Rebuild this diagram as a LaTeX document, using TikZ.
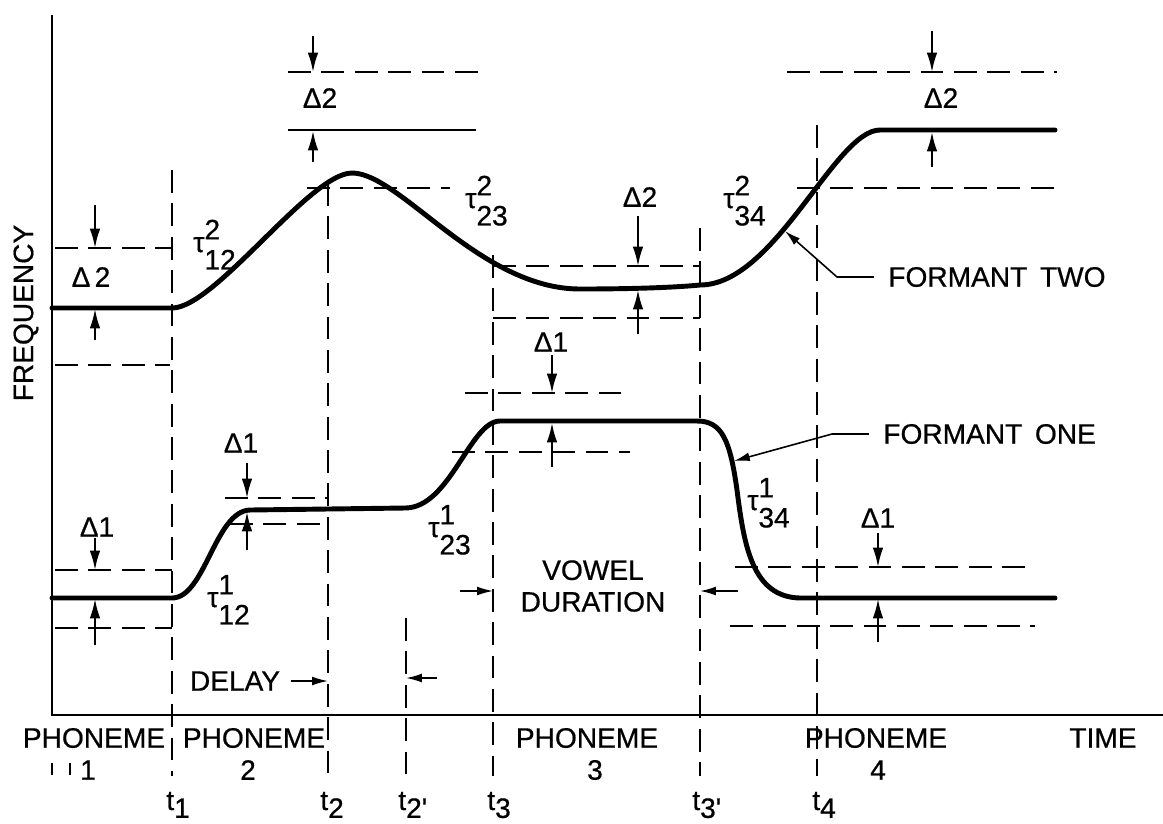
\documentclass[tikz,border=0pt]{standalone}
\usepackage{fontspec}
\setmainfont{Liberation Sans}[RawFeature={embolden=0.6}]
\usetikzlibrary{arrows.meta}

% tau with stacked indices at text size
\newcommand{\tauidx}[2]{τ\rlap{\raisebox{0.45em}{#1}}\raisebox{-0.62em}{#2}}
% time mark t_i
\newcommand{\tmark}[1]{t\raisebox{-0.28em}{#1}}

\tikzset{
  frameaxis/.style={line width=1.4pt},
  formant/.style={line width=2.8pt,line cap=round},
  guide/.style={line width=1.1pt,dash pattern=on 13pt off 6pt},
  solidrule/.style={line width=1.1pt},
  deltaarr/.style={line width=1.1pt,-{Latex[length=11pt,width=6pt]}},
  leader/.style={line width=0.9pt,-{Latex[length=9pt,width=5pt]}},
  lbl/.style={inner sep=0pt}
}

\begin{document}
\begin{tikzpicture}[x=0.02cm,y=-0.02cm,font=\fontsize{16}{18}\selectfont]
\useasboundingbox (0,0) rectangle (1163,823);

% axes
\coordinate (o) at (52,715);
\draw[frameaxis] (52,15) -- (o) -- (1163,715);
\node[lbl,rotate=90] (freq) at (26,313) {FREQUENCY};
\draw[solidrule] (52,763) -- (52,775);
\draw[solidrule] (70,763) -- (70,775);

% time lines
\foreach \x/\ytop in {172/170, 328/183, 406/618, 493/255, 700/228, 817/125}
  \draw[guide] (\x,\ytop) -- (\x,776);

% delta bands, formant two
\draw[guide] (55,248) -- (172,248);
\draw[guide] (55,365) -- (170,365);
\draw[guide] (288,72) -- (480,72);
\draw[solidrule] (288,130) -- (476,130);
\draw[guide] (307,188) -- (450,188);
\draw[guide] (493,266) -- (700,266);
\draw[guide] (493,318) -- (700,318);
\draw[guide] (787,72) -- (1057,72);
\draw[guide] (797,188) -- (1057,188);
% delta bands, formant one
\draw[guide] (55,570) -- (172,570);
\draw[guide] (55,628) -- (172,628);
\draw[guide] (225,498) -- (328,498);
\draw[guide] (230,524) -- (328,524);
\draw[guide] (465,393) -- (622,393);
\draw[guide] (452,452) -- (630,452);
\draw[guide] (735,567) -- (1027,567);
\draw[guide] (730,626) -- (1035,626);

% delta arrows
\foreach \x/\a/\b in {95/205/248, 95/340/309, 313/36/72, 313/162/131,
    638/216/266, 638/334/290, 932/31/72, 932/167/132,
    95/538/570, 95/645/599, 247/463/498, 247/550/512,
    552/355/393, 552/467/423, 878/533/567, 878/642/599}
  \draw[deltaarr] (\x,\a) -- (\x,\b);

% formant two
\draw[formant] (52,308) -- (172,308) .. controls (215,308) and (310,173) .. (352,173)
  .. controls (400,173) and (480,289) .. (580,289)
  .. controls (640,289) and (680,287) .. (700,285)
  .. controls (775,285) and (835,130) .. (880,130) -- (1055,130);
% formant one
\draw[formant] (52,598) -- (172,598) .. controls (205,598) and (215,511) .. (250,510)
  -- (405,508) .. controls (450,508) and (470,421) .. (500,421)
  -- (697,421) .. controls (722,421) and (730,440) .. (737,490)
  .. controls (744,545) and (752,597) .. (800,598) -- (1055,598);

% delta labels
\node[lbl] (d2a) at (91,277) {Δ\hspace{0.15em}2};
\node[lbl] (d2b) at (320,98) {Δ2};
\node[lbl] (d2c) at (640,197) {Δ2};
\node[lbl] (d2d) at (941,98) {Δ2};
\node[lbl] (d1a) at (97,527) {Δ1};
\node[lbl] (d1b) at (241,443) {Δ1};
\node[lbl] (d1c) at (551,342) {Δ1};
\node[lbl] (d1d) at (878,518) {Δ1};

% transition times
\node[lbl,anchor=base west] (tau12b) at (193,252) {\tauidx{2}{12}};
\node[lbl,anchor=base west] (tau23b) at (465,208) {\tauidx{2}{23}};
\node[lbl,anchor=base west] (tau34b) at (723,208) {\tauidx{2}{34}};
\node[lbl,anchor=base west] (tau12a) at (207,607) {\tauidx{1}{12}};
\node[lbl,anchor=base west] (tau23a) at (428,537) {\tauidx{1}{23}};
\node[lbl,anchor=base west] (tau34a) at (747,510) {\tauidx{1}{34}};

% formant names
\node[lbl,anchor=west] (ftwo) at (888,277) {FORMANT\hspace{0.45em}TWO};
\coordinate (ftwoelbow) at (837,277);
\coordinate (ftwotip) at (785,231);
\draw[leader] ([xshift=-8pt]ftwo.west) -- (ftwoelbow) -- (ftwotip);
\node[lbl,anchor=west] (fone) at (883,434) {FORMANT\hspace{0.45em}ONE};
\coordinate (foneelbow) at (832,434);
\coordinate (fonetip) at (734,461);
\draw[leader] ([xshift=-8pt]fone.west) -- (foneelbow) -- (fonetip);

% delay and vowel duration
\node[lbl] (delay) at (235,681) {DELAY};
\coordinate (delayend) at (328,681);
\draw[leader] ([xshift=6pt]delay.east) -- (delayend);
\coordinate (t2ptail) at (437,678);
\coordinate (t2pend) at (406,678);
\draw[leader] (t2ptail) -- (t2pend);
\node[lbl,align=center] (vowel) at (593,586) {VOWEL\\DURATION};
\coordinate (vowell) at (460,591);
\coordinate (vowella) at (493,591);
\coordinate (vowelr) at (738,591);
\coordinate (vowelra) at (700,591);
\draw[leader] (vowell) -- (vowella);
\draw[leader] (vowelr) -- (vowelra);

% phonemes
\node[lbl] (ph1) at (94,738) {PHONEME};
\node[lbl] (ph1n) at (88,770) {1};
\node[lbl] (ph2) at (254,738) {PHONEME};
\node[lbl] (ph2n) at (248,770) {2};
\node[lbl] (ph3) at (587,738) {PHONEME};
\node[lbl] (ph3n) at (595,770) {3};
\node[lbl] (ph4) at (876,738) {PHONEME};
\node[lbl] (ph4n) at (878,770) {4};
\node[lbl] (time) at (1103,738) {TIME};

% time marks
\node[lbl,anchor=base west] (lt1) at (166,810) {\tmark{1}};
\node[lbl,anchor=base west] (lt2) at (320,810) {\tmark{2}};
\node[lbl,anchor=base west] (lt2p) at (398,810) {\tmark{2\textquotesingle}};
\node[lbl,anchor=base west] (lt3) at (487,810) {\tmark{3}};
\node[lbl,anchor=base west] (lt3p) at (692,810) {\tmark{3\textquotesingle}};
\node[lbl,anchor=base west] (lt4) at (812,810) {\tmark{4}};
\end{tikzpicture}
\end{document}
